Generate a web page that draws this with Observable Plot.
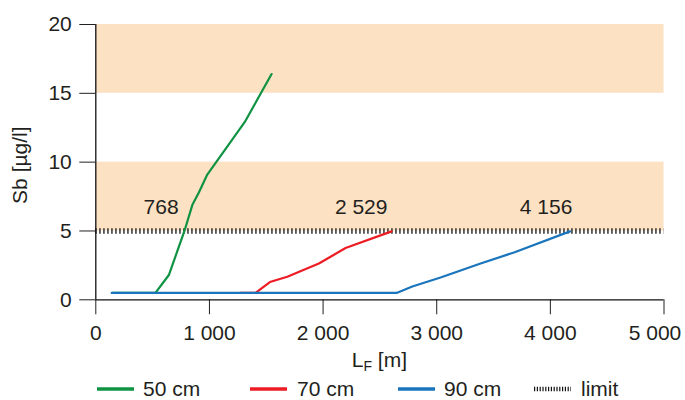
<!DOCTYPE html>
<html>
<head>
<meta charset="utf-8">
<script src="https://cdn.jsdelivr.net/npm/d3@7"></script>
<script src="https://cdn.jsdelivr.net/npm/@observablehq/plot@0.6"></script>
<style>
  html, body { margin: 0; padding: 0; background: #ffffff; }
  #wrap { width: 685px; height: 400px; position: relative; font-family: "Liberation Sans", Arial, Helvetica, sans-serif; color: #231f20; }
  #legend { position: relative; width: 685px; height: 24px; font-size: 21px; }
  .item { position: absolute; top: 3px; height: 20px; line-height: 20px; white-space: nowrap; }
  .item svg { position: absolute; top: 6px; }
  .item span { position: absolute; top: 0; }
</style>
</head>
<body>
<div id="wrap"></div>
<script>
// ---- data ----
const xTicks = [0, 1000, 2000, 3000, 4000, 5000];
const yTicks = [0, 5, 10, 15, 20];
const bandLow = [5, 15];
const bandHigh = [10, 20];
const limitValue = 5;

const seriesNames = ["50 cm", "70 cm", "90 cm"];
const seriesColors = ["#0f9343", "#ed1c24", "#1a75bc"];

const x50 = [150, 525, 643, 780, 850, 907, 981, 1310, 1547];
const y50 = [0.5, 0.5, 1.8, 5.0, 6.9, 7.8, 9.1, 12.9, 16.4];

const x70 = [1273, 1406, 1532, 1685, 1963, 2066, 2198, 2603];
const y70 = [0.5, 0.5, 1.29, 1.67, 2.64, 3.13, 3.76, 4.97];

const x90 = [140, 2647, 2785, 3034, 3386, 3680, 4173];
const y90 = [0.5, 0.5, 0.97, 1.62, 2.64, 3.44, 4.97];

const crossX = [768, 2529, 4156];

// ---- build ----
const fmt = d3.formatLocale({decimal: ".", thousands: " ", grouping: [3], currency: ["", ""]}).format(",");
const toRows = (xs, ys, name) => xs.map((x, i) => ({x, y: ys[i], series: name}));
const lineRows = [
  ...toRows(x50, y50, seriesNames[0]),
  ...toRows(x70, y70, seriesNames[1]),
  ...toRows(x90, y90, seriesNames[2])
];
const bands = bandLow.map((lo, i) => ({lo, hi: bandHigh[i]}));
const crossRows = crossX.map(v => ({x: v, y: limitValue, label: fmt(v)}));
const textColor = "#231f20";
const lastTick = xTicks.slice(-1);
const lastValue = lastTick[0];

const chart = Plot.plot({
  width: 685,
  height: 376,
  marginLeft: 95.3,
  marginRight: 21.5,
  marginTop: 24,
  marginBottom: 76.7,
  style: {fontFamily: "'Liberation Sans', Arial, Helvetica, sans-serif", fontSize: "21px", color: textColor, background: "white", overflow: "visible"},
  x: {domain: [0, 5000], axis: null},
  y: {domain: [0, 20], ticks: yTicks, tickSize: 16, tickPadding: 8, label: null},
  color: {domain: seriesNames, range: seriesColors},
  marks: [
    Plot.rect(bands, {x1: 0, x2: 5000, y1: "lo", y2: "hi", fill: "#fde1c3"}),
    Plot.ruleY([limitValue], {stroke: "#111", strokeWidth: 5.5, strokeDasharray: "1.3,2.7"}),
    Plot.line(lineRows, {x: "x", y: "y", z: "series", stroke: "series", strokeWidth: 2.2, strokeLinejoin: "round"}),
    Plot.text(crossRows, {x: "x", y: "y", text: "label", dx: -22, dy: -23.5, fontSize: 21, fill: textColor, textAnchor: "middle", lineAnchor: "middle"}),
    Plot.axisX(xTicks, {tickSize: 15, tickPadding: 10, tickFormat: d => d === lastValue ? "" : fmt(d), label: null}),
    Plot.axisX(lastTick, {tickSize: 0, tickPadding: 25, tickFormat: fmt, label: null, dx: -9}),
    Plot.ruleX([0], {stroke: "#111", strokeWidth: 1.3}),
    Plot.ruleY([0], {stroke: "#111", strokeWidth: 1.3})
  ]
});

const xs = chart.scale("x"), ys = chart.scale("y");
const svg = d3.select(chart);
// x axis title with subscript
const xt = svg.append("text")
  .attr("x", xs.apply(2500))
  .attr("y", 366.5)
  .attr("text-anchor", "middle")
  .attr("fill", textColor)
  .style("font-size", "21px");
xt.append("tspan").text("L");
xt.append("tspan").attr("font-size", "14px").attr("dy", "4").text("F");
xt.append("tspan").attr("dy", "-4").text(" [m]");
// y axis title
svg.append("text")
  .attr("transform", `translate(19,${(ys.apply(0) + ys.apply(20)) / 2 + 3.5}) rotate(-90)`)
  .attr("text-anchor", "middle")
  .attr("dy", "0.36em")
  .attr("fill", textColor)
  .style("font-size", "21px")
  .text("Sb [µg/l]");

const wrap = document.getElementById("wrap");
wrap.appendChild(chart);

// ---- legend ----
const legend = document.createElement("div");
legend.id = "legend";
const legendItems = [
  {label: seriesNames[0], color: seriesColors[0], left: 97, textLeft: 143},
  {label: seriesNames[1], color: seriesColors[1], left: 250, textLeft: 297},
  {label: seriesNames[2], color: seriesColors[2], left: 398, textLeft: 444},
  {label: "limit", color: null, left: 534, textLeft: 581}
];
for (const it of legendItems) {
  const d = document.createElement("div");
  d.className = "item";
  d.style.left = it.left + "px";
  const sw = it.color
    ? `<svg width="37" height="8"><line x1="0" x2="37" y1="4" y2="4" stroke="${it.color}" stroke-width="3.4"/></svg>`
    : `<svg width="37" height="8"><line x1="0" x2="37" y1="4" y2="4" stroke="#111" stroke-width="4.5" stroke-dasharray="1.2,1.6"/></svg>`;
  d.innerHTML = sw + `<span style="left:${it.textLeft - it.left}px">${it.label}</span>`;
  legend.appendChild(d);
}
wrap.appendChild(legend);
</script>
</body>
</html>
